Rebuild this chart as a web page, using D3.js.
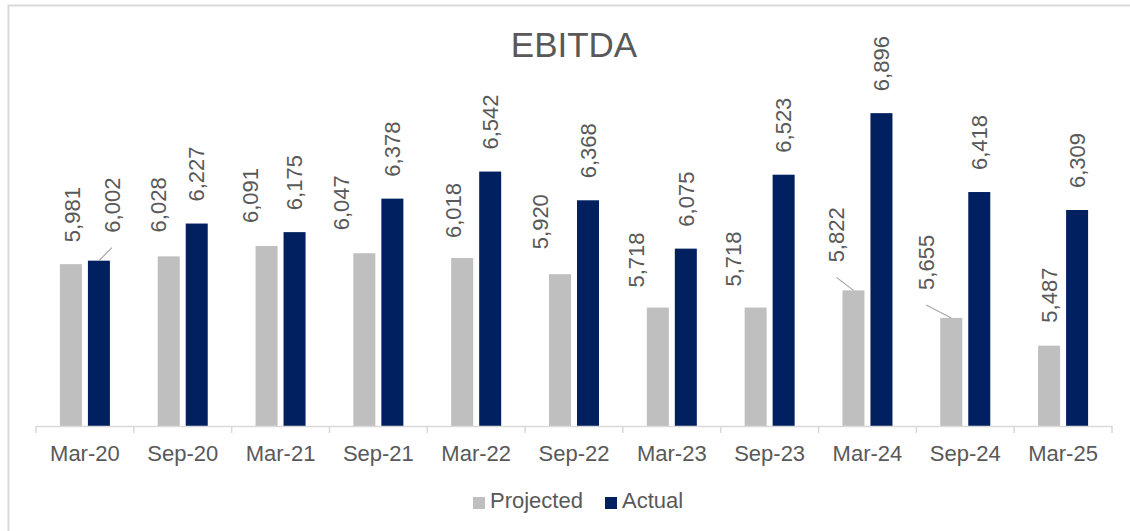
<!DOCTYPE html>
<html>
<head>
<meta charset="utf-8">
<script src="https://cdn.jsdelivr.net/npm/d3@7"></script>
<style>
  html, body { margin: 0; padding: 0; background: #fff; }
  svg { display: block; font-family: "Liberation Sans", Arial, sans-serif; }
</style>
</head>
<body>
<svg id="chart" width="1130" height="531"></svg>
<script>
// ---- data ----
const categories = ["Mar-20","Sep-20","Mar-21","Sep-21","Mar-22","Sep-22","Mar-23","Sep-23","Mar-24","Sep-24","Mar-25"];
const projected  = [5981, 6028, 6091, 6047, 6018, 5920, 5718, 5718, 5822, 5655, 5487];
const actual     = [6002, 6227, 6175, 6378, 6542, 6368, 6075, 6523, 6896, 6418, 6309];
const seriesNames = ["Projected", "Actual"];
const chartTitle = "EBITDA";

// label nudges (manual label placement as in the original)
const projLabelDx  = [1, -10, -16, -23, -9, -20, -22, -22, -17, -25, 0];
const projLabelGap = [22, 24, 23, 23, 20, 25, 20, 21, 28, 28, 23];
const projLeader   = [false, false, false, false, false, false, false, false, true, true, false];
const actLabelDx   = [13, 0, 0, 0, 0, 0, 0, 0, 0, 0, 0];
const actLabelGap  = [28, 22, 22, 22, 22, 22, 22, 22, 22, 22, 22];
const actLeader    = [true, false, false, false, false, false, false, false, false, false, false];

const colors = { Projected: "#bfbfbf", Actual: "#002060" };
const textColor = "#595959";
const lineColor = "#d9d9d9";

const svg = d3.select("#chart");

// chart border
svg.append("rect")
  .attr("x", 8.5).attr("y", 5.5)
  .attr("width", 1200).attr("height", 600)
  .attr("fill", "none").attr("stroke", lineColor).attr("stroke-width", 2);

const plotLeft = 36, plotRight = 1112, plotTop = 96, plotBottom = 426;

const x = d3.scaleBand().domain(categories).range([plotLeft, plotRight]).paddingInner(0).paddingOuter(0);
const xs = d3.scaleBand().domain(seriesNames).range([-25, 25]).paddingInner(6 / 28).paddingOuter(0);
const y = d3.scaleLinear().domain([5000, 7000]).range([plotBottom, plotTop]);

// title
svg.append("text")
  .attr("x", (plotLeft + plotRight) / 2).attr("y", 57)
  .attr("text-anchor", "middle")
  .attr("font-size", 35).attr("fill", textColor)
  .text(chartTitle);

const rows = categories.map((c, i) => ({ c, i, Projected: projected[i], Actual: actual[i] }));

// bars
seriesNames.forEach(s => {
  svg.append("g").selectAll("rect")
    .data(rows).join("rect")
    .attr("x", d => x(d.c) + x.bandwidth() / 2 + xs(s))
    .attr("width", xs.bandwidth())
    .attr("y", d => y(d[s]))
    .attr("height", d => y(5000) - y(d[s]))
    .attr("fill", colors[s]);
});

// x axis
const axis = d3.axisBottom(x).tickSize(0).tickPadding(0).tickFormat("");
const gAxis = svg.append("g").attr("transform", `translate(0,${plotBottom})`).call(axis);
gAxis.select(".domain").attr("stroke", lineColor).attr("stroke-width", 1.5);
gAxis.selectAll(".tick").remove();
// boundary ticks
const bounds = categories.map(c => x(c)).concat([x(categories[categories.length - 1]) + x.bandwidth()]);
svg.append("g").selectAll("line").data(bounds).join("line")
  .attr("x1", d => d).attr("x2", d => d)
  .attr("y1", plotBottom).attr("y2", plotBottom + 7)
  .attr("stroke", lineColor).attr("stroke-width", 1.5);
// category labels
svg.append("g").selectAll("text").data(categories).join("text")
  .attr("x", d => x(d) + x.bandwidth() / 2)
  .attr("y", 461)
  .attr("text-anchor", "middle")
  .attr("font-size", 22).attr("fill", textColor)
  .text(d => d);

// data labels
const fmt = d3.format(",");
function labels(s, dxArr, gapArr, leaderArr) {
  const g = svg.append("g");
  rows.forEach(d => {
    const bx = x(d.c) + x.bandwidth() / 2 + xs(s) + xs.bandwidth() / 2;
    const by = y(d[s]);
    const lx = bx + dxArr[d.i];
    const ly = by - gapArr[d.i];
    if (leaderArr[d.i]) {
      g.append("line")
        .attr("x1", bx).attr("y1", by)
        .attr("x2", lx).attr("y2", ly + 15)
        .attr("stroke", "#a6a6a6").attr("stroke-width", 1.2);
    }
    g.append("text")
      .attr("transform", `translate(${lx},${ly}) rotate(-90)`)
      .attr("dy", "0.35em")
      .attr("text-anchor", "start")
      .attr("font-size", 22).attr("fill", textColor)
      .text(fmt(d[s]));
  });
}
labels("Projected", projLabelDx, projLabelGap, projLeader);
labels("Actual", actLabelDx, actLabelGap, actLeader);

// legend
const legendItems = [
  { name: "Projected", sx: 473, tx: 490 },
  { name: "Actual", sx: 605, tx: 622 }
];
const lg = svg.append("g");
legendItems.forEach(it => {
  lg.append("rect").attr("x", it.sx).attr("y", 497).attr("width", 12).attr("height", 12)
    .attr("fill", colors[it.name]);
  lg.append("text").attr("x", it.tx).attr("y", 508)
    .attr("font-size", 22).attr("fill", textColor).text(it.name);
});
</script>
</body>
</html>
